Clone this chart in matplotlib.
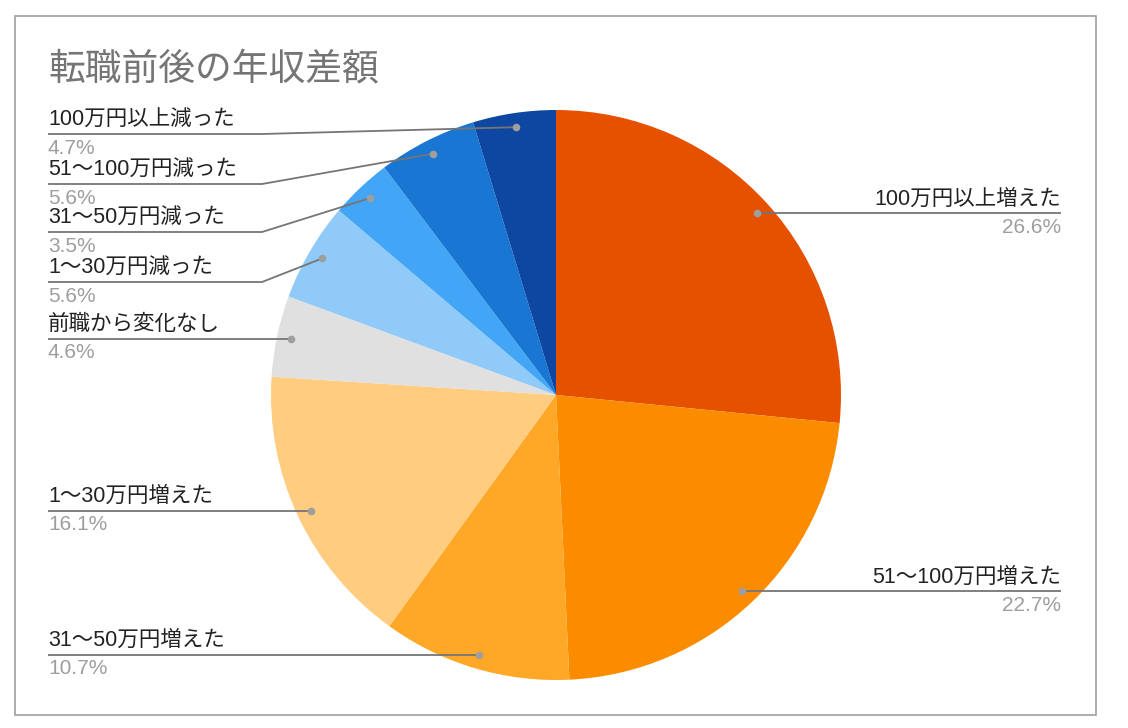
import numpy as np
import matplotlib.pyplot as plt
from matplotlib.patches import Rectangle

W, H = 1128, 728
plt.rcParams['font.family'] = ['Liberation Sans', 'Noto Sans CJK JP']

labels = ["100万円以上増えた", "51〜100万円増えた", "31〜50万円増えた",
          "1〜30万円増えた", "前職から変化なし", "1〜30万円減った",
          "31〜50万円減った", "51〜100万円減った", "100万円以上減った"]
values = [26.6, 22.7, 10.7, 16.1, 4.6, 5.6, 3.5, 5.6, 4.7]
colors = ["#E65100", "#FB8C00", "#FFA726", "#FFCC80", "#E0E0E0",
          "#90CAF9", "#42A5F5", "#1976D2", "#0D47A1"]

# label placement (image pixel rows of the leader line; None = at dot)
side = ["R", "R", "L", "L", "L", "L", "L", "L", "L"]
line_rows = [None, None, None, None, None, 282, 232, 184, 134]

CX, CY, R = 556, 395, 285
LEFT_X, ELBOW_X, RIGHT_X = 48, 262, 1061
LINE_C = "#757575"
DOT_C = "#9E9E9E"


def Y(y):
    return H - y


fig = plt.figure(figsize=(W / 100, H / 100), dpi=100)
ax = fig.add_axes([0, 0, 1, 1])

wedges, _ = ax.pie(values, colors=colors, startangle=90, counterclock=False,
                   center=(CX, Y(CY)), radius=R,
                   wedgeprops=dict(linewidth=0))
ax.set_xlim(0, W)
ax.set_ylim(0, H)
ax.set_aspect("equal")
ax.axis("off")

# frame
ax.add_patch(Rectangle((15, Y(715)), 1081, 699, fill=False,
                       edgecolor="#9E9E9E", lw=1.2))

# title
ax.text(LEFT_X, Y(71), "転職前後の年収差額", ha="left", va="center",
        fontsize=26.5, color="#757575")

total = sum(values)
for w, lab, v, s, row in zip(wedges, labels, values, side, line_rows):
    mid = np.deg2rad((w.theta1 + w.theta2) / 2)
    dx = CX + 0.95 * R * np.cos(mid)
    dy = w.center[1] + 0.95 * R * np.sin(mid)
    ly = dy if row is None else Y(row)
    pct = f"{v / total * 100:.1f}%"
    if s == "L":
        ax.plot([LEFT_X, ELBOW_X, dx], [ly, ly, dy], color=LINE_C,
                lw=1.3, solid_capstyle="butt", zorder=3)
        ax.text(LEFT_X, ly + 14, lab, ha="left", va="center",
                fontsize=15.5, color="#222222")
        ax.text(LEFT_X, ly - 14, pct, ha="left", va="center",
                fontsize=15, color="#9E9E9E")
    else:
        ax.plot([dx, RIGHT_X], [ly, ly], color=LINE_C, lw=1.3,
                solid_capstyle="butt", zorder=3)
        ax.text(RIGHT_X, ly + 14, lab, ha="right", va="center",
                fontsize=15.5, color="#222222")
        ax.text(RIGHT_X, ly - 14, pct, ha="right", va="center",
                fontsize=15, color="#9E9E9E")
    ax.plot([dx], [dy], "o", ms=5.5, color=DOT_C, mec="none", zorder=4)

fig.savefig("out.png", dpi=100, facecolor="white")
